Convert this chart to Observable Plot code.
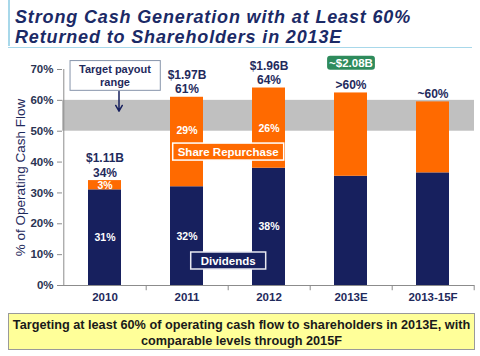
<!DOCTYPE html>
<html><head><meta charset="utf-8">
<script src="https://cdn.jsdelivr.net/npm/d3@7"></script>
<script src="https://cdn.jsdelivr.net/npm/@observablehq/plot@0.6"></script>
<style>
html,body{margin:0;padding:0;background:#fff;}
#wrap{position:relative;width:480px;height:356px;overflow:hidden;font-family:"Liberation Sans",Arial,sans-serif;}
#title{position:absolute;left:15px;top:7px;font-size:18px;letter-spacing:0.85px;font-weight:bold;font-style:italic;line-height:20px;color:#1b2a66;white-space:nowrap;}
#vline{position:absolute;left:8px;top:0;width:2px;height:46px;background:#a8d8ea;}
#hline{position:absolute;left:8px;top:47px;width:464px;height:1px;background:#a8d8ea;}
#chart{position:absolute;left:0;top:50px;}
#caption{position:absolute;left:8px;top:313px;width:467px;height:37px;box-sizing:border-box;border:1px solid #9a9a9a;background:#ffff99;text-align:center;font-size:12.7px;font-weight:bold;line-height:16px;padding-top:3px;color:#1a1a1a;white-space:nowrap;}
</style></head>
<body><div id="wrap">
<div id="vline"></div>
<div id="title">Strong Cash Generation with at Least 60%<br>Returned to Shareholders in 2013E</div>
<div id="hline"></div>
<div id="chart"></div>
<div id="caption">Targeting at least 60% of operating cash flow to shareholders in 2013E, with<br>comparable levels through 2015F</div>
</div>
<script>
const categories = ["2010", "2011", "2012", "2013E", "2013-15F"];
const seriesNames = ["Dividends", "Share Repurchase"];
const dividends = [0.31, 0.32, 0.38, 0.354, 0.365];
const repurchases = [0.03, 0.29, 0.26, 0.27, 0.23];
const dividendLabels = ["31%", "32%", "38%", "", ""];
const repurchaseLabels = ["3%", "29%", "26%", "", ""];
const amountLabels = ["$1.11B", "$1.97B", "$1.96B", "", ""];
const totalLabels = ["34%", "61%", "64%", ">60%", "~60%"];
const highlightCategory = ["2013E"];
const highlightLabel = ["~$2.08B"];
const targetRange = [0.5, 0.6];
const targetLabel = "Target payout\nrange";
const yTicks = [0, 0.1, 0.2, 0.3, 0.4, 0.5, 0.6, 0.7];
const yTitle = "% of Operating Cash Flow";

const NAVY = "#17205e", ORANGE = "#ff6a00", TXT = "#1f2a5c";

const rows = [];
categories.forEach((c, i) => {
  rows.push({category: c, series: seriesNames[0], value: dividends[i], mid: dividends[i] / 2, label: dividendLabels[i]});
  rows.push({category: c, series: seriesNames[1], value: repurchases[i], mid: dividends[i] + repurchases[i] / 2, label: repurchaseLabels[i]});
});
const totals = categories.map((c, i) => ({
  category: c, total: dividends[i] + repurchases[i],
  text: amountLabels[i] ? amountLabels[i] + "\n" + totalLabels[i] : totalLabels[i]
}));
const highlight = highlightCategory.map((c, i) => ({category: c, total: totals[categories.indexOf(c)].total, text: highlightLabel[i]}));

const W = 480, ML = 62, MR = 6;
const step = (W - ML - MR) / categories.length;

const chart = Plot.plot({
  width: W, height: 262,
  marginTop: 19, marginBottom: 27, marginLeft: ML, marginRight: MR,
  style: {fontFamily: "'Liberation Sans', Arial, sans-serif", fontSize: "11.5px", fontWeight: "bold", color: TXT, background: "transparent", overflow: "visible"},
  x: {domain: categories, paddingInner: 0.6, paddingOuter: 0.3, label: null},
  y: {domain: [0, 0.7], label: null},
  color: {domain: seriesNames, range: [NAVY, ORANGE]},
  marks: [
    Plot.rect([targetRange], {y1: d => d[0], y2: d => d[1], fill: "#c0c0c0"}),
    Plot.barY(rows, {x: "category", y: "value", fill: "series"}),
    // axes lines
    Plot.ruleY([0], {stroke: "#8c8c8c", strokeWidth: 1}),
    Plot.ruleX([categories[0]], {dx: -step / 2, y1: 0, y2: 0.7, stroke: "#8c8c8c"}),
    Plot.ruleX(categories, {dx: step / 2, y1: 0, y2: -0.017, stroke: "#8c8c8c"}),
    Plot.axisY({ticks: yTicks, tickFormat: d3.format(".0%"), tickSize: 5, tickPadding: 4, stroke: "#8c8c8c", fill: "#2a3352", fontSize: 11.5, label: null}),
    Plot.axisX({tickSize: 0, tickPadding: 7, fill: TXT, fontSize: 11.5, label: null}),
    Plot.text([yTitle], {frameAnchor: "left", textAnchor: "middle", rotate: -90, dx: -42, fill: TXT, fontSize: 13.5, fontWeight: "normal", text: d => d}),
    // segment labels
    Plot.text(rows.filter(d => d.label && !(d.category === "2011" && d.series === seriesNames[1])), {x: "category", y: "mid", text: "label", fill: "white", fontSize: 10.5}),
    Plot.text(rows.filter(d => d.label && d.category === "2011" && d.series === seriesNames[1]), {x: "category", y: "mid", text: "label", fill: "white", fontSize: 10.5, dy: -11}),
    // totals
    Plot.text(totals, {x: "category", y: "total", text: "text", lineAnchor: "bottom", dy: -4, fill: TXT, fontSize: 12, lineHeight: 1.2}),
    Plot.text(highlight, {x: "category", y: "total", text: "text", dy: -30, fill: "white", fontSize: 11.5}),
    // annotations
    Plot.text([targetLabel], {x: () => categories[0], y: () => 0.682, dx: 10, text: d => d, fill: TXT, fontSize: 11, lineHeight: 1.25}),
    Plot.arrow([0], {x1: () => categories[0], x2: () => categories[0], y1: () => 0.629, y2: () => 0.565, dx: 14, stroke: NAVY, strokeWidth: 1.5, headLength: 7}),
    Plot.text([seriesNames[1]], {x: () => categories[1], y: () => 0.433, dx: step / 2, text: d => d, fill: "white", fontSize: 11.5}),
    Plot.text([seriesNames[0]], {x: () => categories[1], y: () => 0.08, dx: step / 2, text: d => d, fill: "white", fontSize: 11.5})
  ]
});
document.getElementById("chart").appendChild(chart);

// add boxes behind annotation labels
const boxes = {
  "Target payoutrange": {fill: "white", stroke: "#8795ab", sw: 1, px: 9, py: 2, r: 0},
  "Share Repurchase": {fill: ORANGE, stroke: "white", sw: 1.5, px: 5, py: 2.5, r: 0},
  "Dividends": {fill: NAVY, stroke: "#e8e8f0", sw: 1.5, px: 10, py: 2.5, r: 0},
  "~$2.08B": {fill: "#2e8b5c", stroke: "none", sw: 0, px: 2, py: 1, r: 3}
};
chart.querySelectorAll("text").forEach(t => {
  const b = boxes[t.textContent];
  if (!b) return;
  const bb = t.getBBox();
  const r = document.createElementNS("http://www.w3.org/2000/svg", "rect");
  r.setAttribute("x", bb.x - b.px);
  r.setAttribute("y", bb.y - b.py);
  r.setAttribute("width", bb.width + 2 * b.px);
  r.setAttribute("height", bb.height + 2 * b.py);
  r.setAttribute("rx", b.r);
  r.setAttribute("fill", b.fill);
  r.setAttribute("stroke", b.stroke);
  r.setAttribute("stroke-width", b.sw);
  const tr = t.getAttribute("transform");
  if (tr) r.setAttribute("transform", tr);
  t.parentNode.insertBefore(r, t);
});
</script>
</body></html>
